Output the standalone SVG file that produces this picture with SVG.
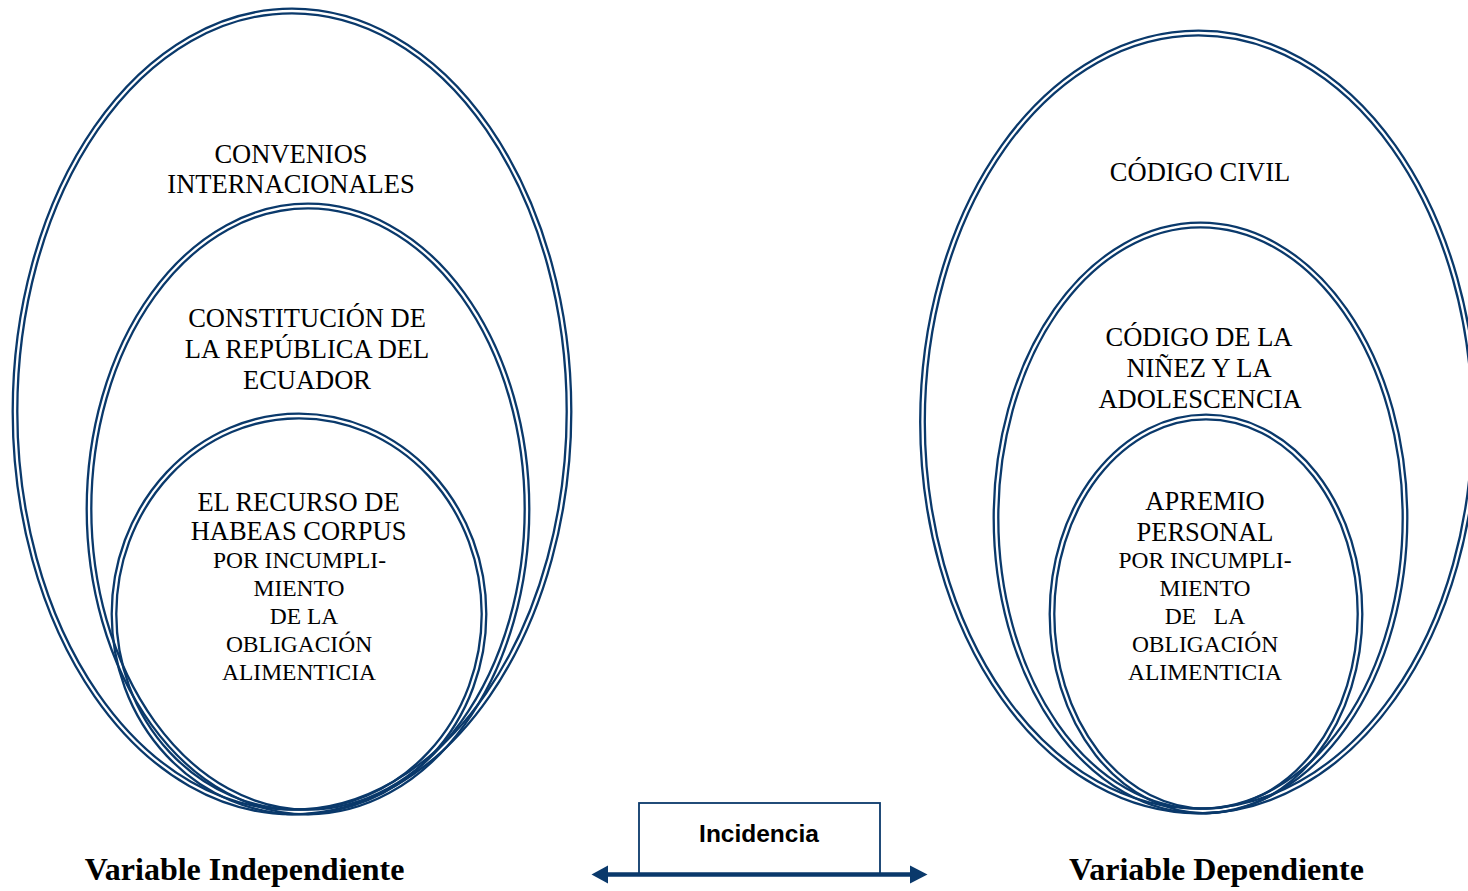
<svg xmlns="http://www.w3.org/2000/svg" width="1468" height="891" viewBox="0 0 1468 891">
<style>
.ring{fill:none;stroke:#0a396b;stroke-width:2.3}
.t{font-family:"Liberation Serif","Times New Roman",serif;font-size:26.5px;fill:#000;text-anchor:middle}
.s{font-family:"Liberation Serif","Times New Roman",serif;font-size:23.5px;fill:#000;text-anchor:middle}
.b{font-family:"Liberation Serif","Times New Roman",serif;font-size:32px;font-weight:bold;fill:#000;text-anchor:middle}
.inc{font-family:"Liberation Sans",Arial,sans-serif;font-size:24.5px;font-weight:bold;fill:#000;text-anchor:middle}
</style>
<rect width="1468" height="891" fill="#fff"/>
<g id="left-outer">
<ellipse class="ring" cx="292" cy="411.5" rx="279.3" ry="402.8"/>
<ellipse class="ring" cx="292" cy="411.5" rx="274.7" ry="398.2"/>
<text class="t" x="291" y="163">CONVENIOS</text>
<text class="t" x="291" y="193">INTERNACIONALES</text>
</g>
<g id="left-middle">
<ellipse class="ring" cx="308" cy="509" rx="221.3" ry="305.3"/>
<ellipse class="ring" cx="308" cy="509" rx="216.7" ry="300.7"/>
<text class="t" x="307" y="327">CONSTITUCIÓN DE</text>
<text class="t" x="307" y="358">LA REPÚBLICA DEL</text>
<text class="t" x="307" y="389">ECUADOR</text>
</g>
<g id="left-inner">
<ellipse class="ring" cx="299" cy="614" rx="187.3" ry="200.3"/>
<ellipse class="ring" cx="299" cy="614" rx="182.7" ry="195.7"/>
<text class="t" x="298.5" y="511">EL RECURSO DE</text>
<text class="t" x="298.5" y="540">HABEAS CORPUS</text>
<text class="s" x="299.5" y="568">POR INCUMPLI-</text>
<text class="s" x="299" y="596">MIENTO</text>
<text class="s" x="304" y="624">DE LA</text>
<text class="s" x="299" y="652">OBLIGACIÓN</text>
<text class="s" x="299" y="680">ALIMENTICIA</text>
</g>
<g id="right-outer">
<ellipse class="ring" cx="1198.5" cy="422" rx="278.3" ry="391.3"/>
<ellipse class="ring" cx="1198.5" cy="422" rx="273.7" ry="386.7"/>
<text class="t" x="1200" y="181">CÓDIGO CIVIL</text>
</g>
<g id="right-middle">
<ellipse class="ring" cx="1200.5" cy="518" rx="206.8" ry="295.3"/>
<ellipse class="ring" cx="1200.5" cy="518" rx="202.2" ry="290.7"/>
<text class="t" x="1199" y="346">CÓDIGO DE LA</text>
<text class="t" x="1199" y="377">NIÑEZ Y LA</text>
<text class="t" x="1200" y="408">ADOLESCENCIA</text>
</g>
<g id="right-inner">
<ellipse class="ring" cx="1206" cy="614" rx="156.3" ry="199.3"/>
<ellipse class="ring" cx="1206" cy="614" rx="151.7" ry="194.7"/>
<text class="t" x="1205" y="510">APREMIO</text>
<text class="t" x="1205" y="541">PERSONAL</text>
<text class="s" x="1205" y="568">POR INCUMPLI-</text>
<text class="s" x="1205" y="596">MIENTO</text>
<text class="s" x="1205" y="624" xml:space="preserve">DE   LA</text>
<text class="s" x="1205" y="652">OBLIGACIÓN</text>
<text class="s" x="1205" y="680">ALIMENTICIA</text>
</g>
<g id="incidencia">
<rect x="639" y="803" width="241" height="71.5" fill="#fff" stroke="#0a396b" stroke-width="1.8"/>
<text class="inc" x="759" y="842">Incidencia</text>
</g>
<g id="connectors">
<line x1="604" y1="874.5" x2="914" y2="874.5" stroke="#0a396b" stroke-width="4.5"/>
<polygon points="591.5,874.5 608,865.5 608,883.5" fill="#0a396b"/>
<polygon points="927.5,874.5 910,865.5 910,883.5" fill="#0a396b"/>
</g>
<g id="labels">
<text class="b" x="244.5" y="880">Variable Independiente</text>
<text class="b" x="1216.5" y="880">Variable Dependiente</text>
</g>
</svg>
